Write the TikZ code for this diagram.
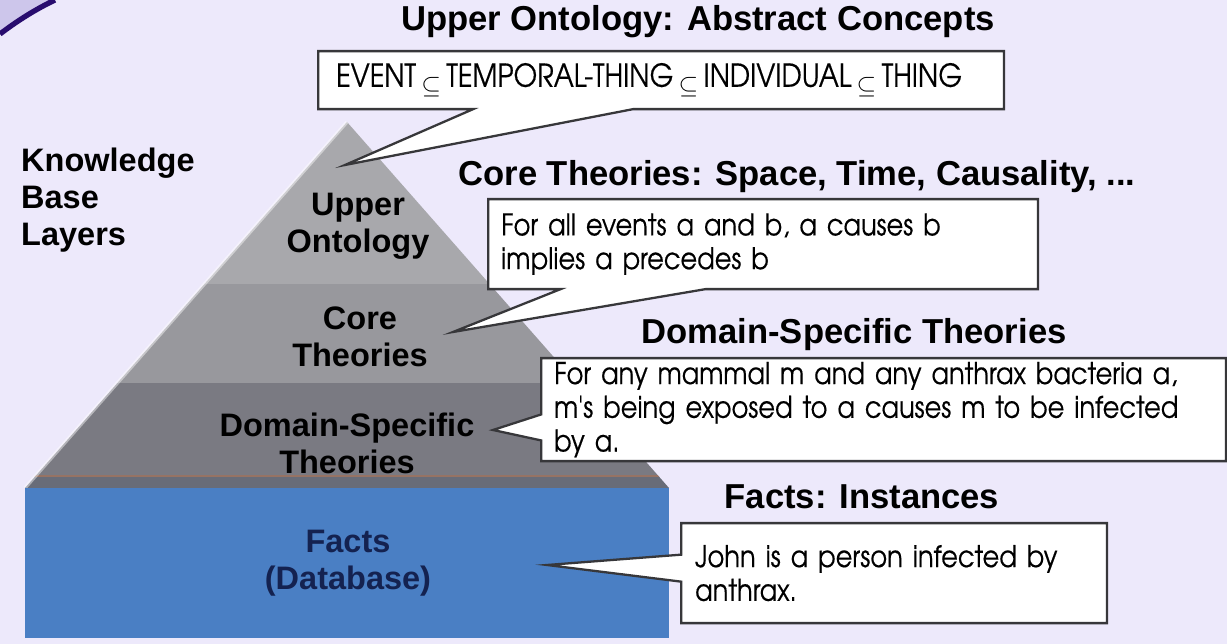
\documentclass[tikz,border=0pt]{standalone}
\usepackage{fontspec}
\setmainfont{Liberation Sans}
\newfontfamily\notefont{texgyreadventor}[Extension=.otf, UprightFont=*-regular, FakeStretch=0.86, FakeBold=0.4]
\usetikzlibrary{shapes.callouts, positioning}
\definecolor{bgpurple}{RGB}{237,233,251}
\definecolor{arcpurple}{RGB}{40,12,110}
\definecolor{cornerpurple}{RGB}{205,198,235}
\definecolor{upperfill}{RGB}{168,168,172}
\definecolor{corefill}{RGB}{152,152,157}
\definecolor{domainfill}{RGB}{122,122,130}
\definecolor{bandfill}{RGB}{104,108,120}
\definecolor{bandline}{RGB}{150,115,100}
\definecolor{factsblue}{RGB}{74,127,196}
\definecolor{factsnavy}{RGB}{20,34,80}
\definecolor{boxgray}{RGB}{55,55,58}
\newcommand\subsym{\,\raisebox{-4pt}{\fontsize{14}{14}\selectfont$\subseteq$}\,}
\tikzset{
  Heading/.style = {font=\fontsize{19.7}{22}\selectfont\bfseries},
  Layer/.style = {font=\fontsize{18.5}{21}\selectfont\bfseries, align=center},
  Note/.style = {
    rectangle callout, draw=boxgray, line width=1.3pt, fill=white,
    anchor=north west, align=left, inner ysep=0pt,
    font=\notefont\fontsize{17}{19.2}\selectfont
  }
}

\begin{document}
\begin{tikzpicture}[x=0.02cm, y=-0.02cm]
  \useasboundingbox (0,0) rectangle (1227,644);
  \fill[bgpurple] (0,0) rectangle (1227,644);
  % corner of the frame
  \fill[cornerpurple] (0,0) -- (55,0) .. controls (36,9) and (17,21) .. (0,34) -- cycle;
  \draw[arcpurple, line width=3pt] (0,34) .. controls (17,21) and (36,9) .. (55,0);

  % pyramid
  \coordinate (apex) at (347,122);
  \coordinate (bl) at (25,488);
  \coordinate (br) at (669,488);
  \begin{scope}
    \clip (apex) -- (br) -- (bl) -- cycle;
    \fill[upperfill] (0,100) rectangle (700,284);
    \fill[corefill] (0,284) rectangle (700,383);
    \fill[domainfill] (0,383) rectangle (700,476);
    \fill[bandfill] (0,476) rectangle (700,488);
    \draw[bandline, line width=1pt] (0,476) -- (700,476);
  \end{scope}
  \draw[white, opacity=.45, line width=2pt] (apex) -- (bl);
  \fill[factsblue] (bl) rectangle (669,638);

  % layer names
  \node[Layer, align=left, anchor=west] (kbl) at (15,200) {Knowledge\\Base\\Layers};
  \node[Layer] (uo) at (358,226) {Upper\\Ontology};
  \node[Layer] (ct) at (360,337) {Core\\Theories};
  \node[Layer] (ds) at (347,443) {Domain-Specific\\Theories};
  \node[Layer, text=factsnavy] (fd) at (348,563) {Facts\\(Database)};

  % headings
  \node[Heading] (h1) at (698,22) {Upper Ontology: Abstract Concepts};
  \node[Heading] (h2) at (797,177) {Core Theories: Space, Time, Causality, ...};
  \node[Heading] (h3) at (854,335) {Domain-Specific Theories};
  \node[Heading] (h4) at (862,497) {Facts: Instances};

  % pointer tips
  \coordinate (t1) at (345,165);
  \coordinate (t2) at (453,332);
  \coordinate (t3) at (493,430);
  \coordinate (t4) at (547,565);

  % callouts
  \node[Note, callout absolute pointer={(t1)}, callout pointer width=3.2cm,
        inner xsep=0.36cm, text width=13cm, minimum height=1.16cm,
        font=\notefont\fontsize{18}{20}\selectfont] (n1) at (317,50)
        {EVENT\subsym TEMPORAL-THING\subsym INDIVIDUAL\subsym THING};
  \node[Note, callout absolute pointer={(t2)}, callout pointer width=2.9cm,
        inner xsep=0.26cm, text width=10.48cm, minimum height=1.8cm] (n2) at (487,198)
        {For all events a and b, a causes b\\implies a precedes b};
  \node[Note, callout absolute pointer={(t3)}, callout pointer width=0.52cm,
        inner xsep=0.26cm, text width=13.18cm, minimum height=2.06cm] (n3) at (540,357)
        {For any mammal m and any anthrax bacteria a,\\m's being exposed to a causes m to be infected\\by a.};
  \node[Note, callout absolute pointer={(t4)}, callout pointer width=0.54cm,
        inner xsep=0.28cm, text width=7.96cm, minimum height=2cm] (n4) at (680,522)
        {John is a person infected by\\anthrax.};
\end{tikzpicture}
\end{document}
